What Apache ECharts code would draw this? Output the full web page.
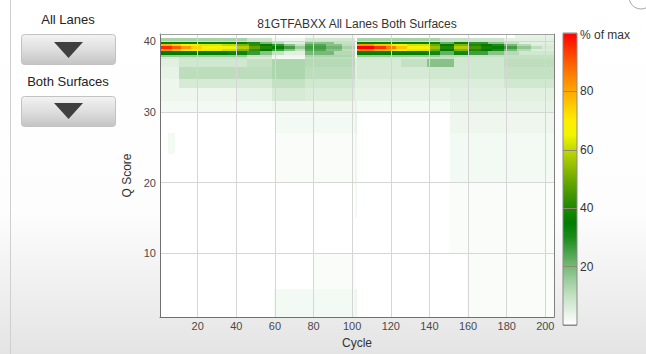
<!DOCTYPE html>
<html><head><meta charset="utf-8">
<script src="https://cdn.jsdelivr.net/npm/echarts@6/dist/echarts.min.js"></script>
<style>
html,body{margin:0;padding:0;width:646px;height:354px;overflow:hidden;}
body{background:linear-gradient(to bottom,#ffffff 0%,#fdfdfd 60%,#e4e4e4 100%);}
#c{width:646px;height:354px;}
</style></head><body><div id="c"></div>
<script>
// ---- text ----
const titleText = '81GTFABXX All Lanes Both Surfaces';
const laneLabel = 'All Lanes';
const surfaceLabel = 'Both Surfaces';
const xName = 'Cycle';
const yName = 'Q Score';
const legendName = '% of max';

// ---- data: each row is a Q range; runs are [firstCycle, lastCycle, % of max] ----
const qAbove = [[76,101,2],[185,204,4]];
const qHaloTop = [[1,45,14],[46,58,9],[59,75,3],[76,101,8],[103,145,14],[146,160,10],[161,178,9],[179,204,5]];
const qBandTop = [[1,35,36],[36,45,35],[46,52,30],[53,58,20],[59,64,12],[65,75,5],[76,90,18],[91,101,10],
  [103,138,36],[139,145,33],[146,152,22],[153,160,34],[161,170,28],[171,178,18],[179,186,10],[187,204,5]];
const qBandUpper = [[1,6,78],[7,11,74],[12,20,68],[21,32,63],[33,40,60],[41,46,52],[47,52,42],[53,58,35],[59,64,28],[65,70,18],[71,75,10],[76,86,24],[87,94,18],[95,101,11],
  [103,111,82],[112,120,76],[121,128,68],[129,140,62],[141,145,50],[146,152,35],[153,160,52],[161,166,40],[167,172,35],[173,178,30],[179,185,20],[186,192,12],[193,204,6]];
const qBandCenter = [[1,6,96],[7,11,90],[12,16,82],[17,22,74],[23,32,68],[33,40,65],[41,46,58],[47,52,48],[53,58,40],[59,64,34],[65,70,26],[71,75,16],[76,86,26],[87,94,21],[95,101,14],
  [103,111,100],[112,117,95],[118,122,86],[123,128,76],[129,140,68],[141,145,55],[146,152,40],[153,160,58],[161,166,45],[167,172,38],[173,178,34],[179,185,26],[186,192,17],[193,198,11],[199,204,7]];
const qBandLower = [[1,6,82],[7,11,76],[12,20,70],[21,32,64],[33,40,61],[41,46,52],[47,52,42],[53,58,35],[59,64,27],[65,70,18],[71,75,10],[76,86,24],[87,94,18],[95,101,11],
  [103,111,85],[112,120,78],[121,128,70],[129,140,63],[141,145,50],[146,152,35],[153,160,52],[161,166,40],[167,172,35],[173,178,30],[179,185,20],[186,192,12],[193,204,6]];
const qBandBottom = [[1,35,35],[36,45,33],[46,52,27],[53,58,18],[59,64,10],[65,75,5],[76,90,20],[91,101,12],
  [103,138,36],[139,145,32],[146,152,22],[153,160,32],[161,170,26],[171,178,18],[179,186,12],[187,204,8]];
const qHaloBottom = [[1,45,16],[46,58,10],[59,75,3],[76,101,13],[103,145,16],[146,160,12],[161,178,10],[179,204,10]];
const q37 = [[1,10,7],[11,45,9],[46,58,7],[59,75,2],[76,101,11],[102,102,4],[103,140,8],[141,152,10],[153,178,8],[179,204,10]];
const q36 = [[1,10,5],[11,45,8],[46,58,10],[59,75,13],[76,101,12],[102,102,5],[103,125,7],[126,138,10],[139,152,18],[153,178,8],[179,204,11]];
const q35 = [[1,10,4],[11,58,11],[59,75,13],[76,101,11],[102,102,5],[103,140,7],[141,178,8],[179,204,10]];
const q34 = [[1,10,3],[11,58,7],[59,75,10],[76,101,8],[102,102,5],[103,140,5],[141,178,6],[179,204,8]];
const q32 = [[1,40,3],[41,58,4],[59,75,7],[76,101,6],[102,102,4],[103,150,4],[151,204,5]];
const q31 = [[1,58,2],[59,101,3],[102,102,4],[103,150,2],[151,204,4]];
const q28 = [[61,101,2],[102,102,4],[151,204,3]];
const q25 = [[5,8,2],[61,101,1],[102,102,3],[151,204,2]];
const q22 = [[61,101,1],[102,102,3],[151,204,2]];
const q17 = [[102,102,2],[151,204,1]];
const q12 = [[151,204,1]];
const q7 = [[80,101,1],[160,204,1]];
const q3 = [[60,101,2],[102,102,3],[160,204,1]];

// Q ranges of the rows above (low, high)
const rows = [
  [40.4, 41.0, qAbove], [40.0, 40.4, qHaloTop], [39.6, 40.0, qBandTop], [39.35, 39.6, qBandUpper],
  [38.95, 39.35, qBandCenter], [38.65, 38.95, qBandLower], [38.1, 38.65, qBandBottom], [37.75, 38.1, qHaloBottom],
  [37.4, 37.75, q37], [36.3, 37.4, q36], [34.7, 36.3, q35], [33.3, 34.7, q34], [31.5, 33.3, q32], [30.0, 31.5, q31],
  [27.0, 30.0, q28], [24.0, 27.0, q25], [20.0, 24.0, q22], [15.0, 20.0, q17], [10.0, 15.0, q12], [5.0, 10.0, q7], [1.0, 5.0, q3]
];
const cycleMin = 0.5, cycleMax = 204.5, qMin = 1, qMax = 41;
const legendMin = 0, legendMax = 100, legendStep = 20;

const cells = [];
rows.forEach(([lo, hi, runs]) => runs.forEach(([c0, c1, v]) => {
  if (v > 0) cells.push([c0 - 0.5, c1 + 0.5, lo, hi, v]);
}));

const FONT = 'Liberation Sans, Arial, sans-serif';
const chart = echarts.init(document.getElementById('c'), null, {renderer: 'svg'});

function renderItem(params, api) {
  const a = api.coord([api.value(0), api.value(3)]);
  const b = api.coord([api.value(1), api.value(2)]);
  const x0 = Math.round(a[0]), y0 = Math.round(a[1]), x1 = Math.round(b[0]), y1 = Math.round(b[1]);
  const cs = params.coordSys;
  const r = echarts.graphic.clipRectByRect({x: x0, y: y0, width: x1 - x0, height: y1 - y0},
    {x: cs.x, y: cs.y, width: cs.width, height: cs.height});
  if (!r) return;
  return {type: 'rect', shape: r, style: {fill: api.visual('color')}};
}

const btnFill = () => new echarts.graphic.LinearGradient(0, 0, 0, 1, [
  {offset: 0, color: '#f3f3f3'}, {offset: 0.5, color: '#dedede'}, {offset: 1, color: '#c4c4c4'}]);

chart.setOption({
  animation: false,
  textStyle: {fontFamily: FONT},
  grid: [
    {left: 160, top: 34, width: 394, height: 291, show: true, backgroundColor: '#ffffff', borderWidth: 0},
    {left: 563, top: 33, width: 14, height: 292, show: true, backgroundColor: 'transparent', borderColor: '#8a8a8a', borderWidth: 1, z: 10}
  ],
  xAxis: [
    {gridIndex: 0, type: 'value', min: cycleMin, max: cycleMax, splitNumber: 10, position: 'bottom', z: 3,
      axisLine: {show: true, onZero: false, lineStyle: {color: '#707070'}}, axisTick: {show: false},
      axisLabel: {showMinLabel: false, showMaxLabel: false, margin: 3, fontSize: 11, color: '#4a4a4a', fontFamily: FONT},
      splitLine: {show: true, lineStyle: {color: '#d6d6d6', width: 1}},
      name: xName, nameLocation: 'middle', nameGap: 20, nameTextStyle: {fontSize: 12, color: '#333', fontFamily: FONT}},
    {gridIndex: 0, type: 'value', min: cycleMin, max: cycleMax, position: 'top', z: 3,
      axisLine: {show: true, onZero: false, lineStyle: {color: '#a0a0a0'}}, axisTick: {show: false},
      axisLabel: {show: false}, splitLine: {show: false}},
    {gridIndex: 1, type: 'value', min: 0, max: 1, show: false}
  ],
  yAxis: [
    {gridIndex: 0, type: 'value', min: qMin, max: qMax, splitNumber: 4, z: 3,
      axisLine: {show: true, onZero: false, lineStyle: {color: '#707070'}}, axisTick: {show: false},
      axisLabel: {showMinLabel: false, showMaxLabel: false, margin: 4, fontSize: 11, color: '#4a4a4a', fontFamily: FONT},
      splitLine: {show: true, lineStyle: {color: '#d6d6d6', width: 1}},
      name: yName, nameLocation: 'middle', nameGap: 19, nameRotate: 90, nameTextStyle: {fontSize: 12, color: '#333', fontFamily: FONT}},
    {gridIndex: 0, type: 'value', min: qMin, max: qMax, position: 'right', z: 3,
      axisLine: {show: true, onZero: false, lineStyle: {color: '#808080'}}, axisTick: {show: false},
      axisLabel: {show: false}, splitLine: {show: false}},
    {gridIndex: 1, type: 'value', min: legendMin, max: legendMax, interval: legendStep, position: 'right', z: 10,
      axisLine: {show: false}, axisTick: {show: false},
      axisLabel: {showMinLabel: false, showMaxLabel: false, margin: 3, fontSize: 12, color: '#333', fontFamily: FONT},
      splitLine: {show: true, lineStyle: {color: '#8c8c72', width: 1}}}
  ],
  visualMap: {
    type: 'continuous', min: legendMin, max: legendMax, left: 563, top: 33, itemWidth: 14, itemHeight: 292,
    padding: 0, calculable: false, hoverLink: false, seriesIndex: 0, dimension: 4,
    inRange: {color: ['#ffffff', '#e2f0e2', '#c4e1c4', '#a0cfa0', '#78b978', '#4aa24a', '#1a8c1a', '#007d00',
      '#1f8800', '#459800', '#6eab00', '#98c100', '#c3d800', '#f0f500', '#ffee00', '#ffcc00', '#ffa800',
      '#ff8400', '#ff5c00', '#ff3000', '#ff0000']}
  },
  graphic: [
    {type: 'line', shape: {x1: 10.5, y1: 0, x2: 10.5, y2: 354}, style: {stroke: '#cfcfcf', lineWidth: 1}},
    {type: 'circle', shape: {cx: 641, cy: -3, r: 12}, style: {fill: '#ffffff', stroke: '#a8a8a8', lineWidth: 1}},
    {type: 'text', x: 68, y: 19, style: {text: laneLabel, fontSize: 13, fontFamily: FONT, fill: '#222', align: 'center', verticalAlign: 'middle'}},
    {type: 'rect', shape: {x: 21.5, y: 34.5, width: 94, height: 30, r: 3}, style: {fill: btnFill(), stroke: '#c2c2c2', lineWidth: 1}},
    {type: 'polygon', shape: {points: [[54, 42], [83, 42], [68.5, 58]]}, style: {fill: '#3f3f3f'}},
    {type: 'text', x: 68, y: 81, style: {text: surfaceLabel, fontSize: 13, fontFamily: FONT, fill: '#222', align: 'center', verticalAlign: 'middle'}},
    {type: 'rect', shape: {x: 21.5, y: 96.5, width: 94, height: 30, r: 3}, style: {fill: btnFill(), stroke: '#c2c2c2', lineWidth: 1}},
    {type: 'polygon', shape: {points: [[54, 103], [83, 103], [68.5, 119]]}, style: {fill: '#3f3f3f'}},
    {type: 'text', x: 357, y: 24, style: {text: titleText, fontSize: 12, fontFamily: FONT, fill: '#333', align: 'center', verticalAlign: 'middle'}},
    {type: 'text', x: 580, y: 35, style: {text: legendName, fontSize: 12, fontFamily: FONT, fill: '#333', align: 'left', verticalAlign: 'middle'}}
  ],
  series: [{
    type: 'custom', xAxisIndex: 0, yAxisIndex: 0, renderItem: renderItem, data: cells, z: 2, silent: true,
    encode: {x: [0, 1], y: [2, 3]}
  }]
});
</script></body></html>
